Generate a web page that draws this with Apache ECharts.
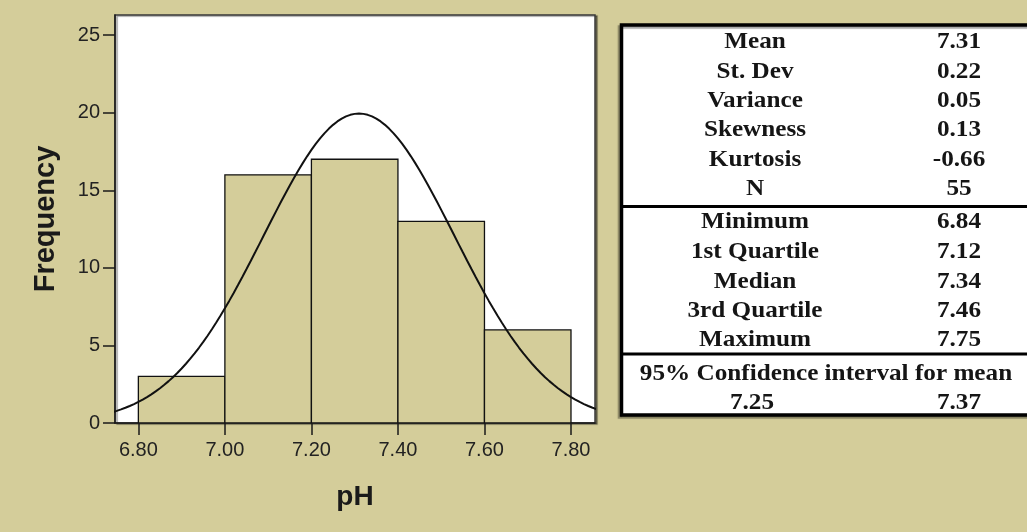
<!DOCTYPE html>
<html>
<head>
<meta charset="utf-8">
<script src="https://cdn.jsdelivr.net/npm/echarts@6/dist/echarts.min.js"></script>
<style>
  html, body { margin: 0; padding: 0; background: #D4CD9A; }
  #chart { width: 1027px; height: 532px; }
</style>
</head>
<body>
<div id="chart"></div>
<script>
// pH histogram: bin edges and counts
const binStarts = [6.80, 7.00, 7.20, 7.40, 7.60];
const binEnds   = [7.00, 7.20, 7.40, 7.60, 7.80];
const counts    = [3, 16, 17, 13, 6];

// Axis tick positions
const xTicks = [6.80, 7.00, 7.20, 7.40, 7.60, 7.80];
const yTicks = [0, 5, 10, 15, 20, 25];

// Summary statistics table
const statLabels1 = ['Mean', 'St. Dev', 'Variance', 'Skewness', 'Kurtosis', 'N'];
const statValues1 = ['7.31', '0.22', '0.05', '0.13', '-0.66', '55'];
const statLabels2 = ['Minimum', '1st Quartile', 'Median', '3rd Quartile', 'Maximum'];
const statValues2 = ['6.84', '7.12', '7.34', '7.46', '7.75'];
const ciTitle = '95% Confidence interval for mean';
const ciValues = ['7.25', '7.37'];

const BG = '#D4CD9A';

// Fitted normal curve scaled to counts (mean and sd from the table)
const mean = parseFloat(statValues1[0]);
const sd = parseFloat(statValues1[1]);
const total = counts.reduce((a, b) => a + b, 0);
const binWidth = binEnds[0] - binStarts[0];
const curve = [];
for (let i = 0; i <= 140; i++) {
  const x = 6.70 + i * 0.01;
  const z = (x - mean) / sd;
  curve.push([x, total * binWidth / (sd * Math.sqrt(2 * Math.PI)) * Math.exp(-0.5 * z * z)]);
}

const chart = echarts.init(document.getElementById('chart'), null, { renderer: 'canvas' });

// Table text helpers
const serif = 'bold 24px "Liberation Serif", serif';
function cell(text, cx, cy) {
  return {
    type: 'text', x: cx, y: cy, scaleX: 1.05, z: 10,
    style: { text: text, font: serif, fill: '#151515', align: 'center', verticalAlign: 'middle',
             textAlign: 'center', textVerticalAlign: 'middle' }
  };
}
const labelX = 755, valueX = 959;
const rows1Y = [42, 72, 101, 130, 160, 189];
const rows2Y = [222, 252, 282, 311, 340];
const tableEls = [
  { type: 'rect', z: 5, shape: { x: 621.5, y: 25, width: 420, height: 390 },
    style: { fill: '#fff', stroke: '#000', lineWidth: 3.5,
             shadowColor: 'rgba(0,0,0,0.35)', shadowOffsetX: -2, shadowOffsetY: 2, shadowBlur: 1 } },
  { type: 'line', z: 6, shape: { x1: 621, y1: 206.5, x2: 1027, y2: 206.5 }, style: { stroke: '#000', lineWidth: 3 } },
  { type: 'line', z: 6, shape: { x1: 621, y1: 354, x2: 1027, y2: 354 }, style: { stroke: '#000', lineWidth: 3 } }
];
statLabels1.forEach((t, i) => { tableEls.push(cell(t, labelX, rows1Y[i])); tableEls.push(cell(statValues1[i], valueX, rows1Y[i])); });
statLabels2.forEach((t, i) => { tableEls.push(cell(t, labelX, rows2Y[i])); tableEls.push(cell(statValues2[i], valueX, rows2Y[i])); });
tableEls.push(cell(ciTitle, 826, 374));
tableEls.push(cell(ciValues[0], 752, 403));
tableEls.push(cell(ciValues[1], valueX, 403));

chart.setOption({
  backgroundColor: BG,
  animation: false,
  grid: {
    left: 115, top: 15, right: 432, bottom: 109,
    show: true, backgroundColor: '#fff', borderColor: '#3a3a3a', borderWidth: 1.5,
    shadowColor: 'rgba(0,0,0,0.4)', shadowOffsetX: 2, shadowOffsetY: 1, shadowBlur: 1
  },
  xAxis: {
    type: 'value', min: 6.746, max: 7.8555,
    name: 'pH', nameLocation: 'middle', nameGap: 60,
    nameTextStyle: { fontFamily: 'Liberation Sans', fontWeight: 'bold', fontSize: 28, color: '#1a1a1a' },
    axisLine: { show: true, onZero: false, lineStyle: { color: '#1a1a1a', width: 1.5 } },
    axisTick: { show: true, length: 12, customValues: xTicks, lineStyle: { color: '#1a1a1a', width: 1.5 } },
    axisLabel: { customValues: xTicks, margin: 17, fontFamily: 'Liberation Sans', fontSize: 20, color: '#222',
                 formatter: v => v.toFixed(2) },
    splitLine: { show: false }
  },
  yAxis: {
    type: 'value', min: 0, max: 26.3,
    name: 'Frequency', nameLocation: 'middle', nameGap: 55, nameRotate: 90,
    nameTextStyle: { fontFamily: 'Liberation Sans', fontWeight: 'bold', fontSize: 29, color: '#1a1a1a' },
    axisLine: { show: true, lineStyle: { color: '#1a1a1a', width: 1.5 } },
    axisTick: { show: true, length: 12, customValues: yTicks, lineStyle: { color: '#1a1a1a', width: 1.5 } },
    axisLabel: { customValues: yTicks, margin: 15, fontFamily: 'Liberation Sans', fontSize: 20, color: '#222' },
    splitLine: { show: false }
  },
  series: [
    {
      type: 'custom',
      clip: true,
      data: binStarts.map((s, i) => [s, binEnds[i], counts[i]]),
      encode: { x: [0, 1], y: 2 },
      renderItem: function (params, api) {
        const p0 = api.coord([api.value(0), 0]);
        const p1 = api.coord([api.value(1), api.value(2)]);
        return {
          type: 'rect',
          shape: { x: p0[0], y: p1[1], width: p1[0] - p0[0], height: p0[1] - p1[1] },
          style: { fill: BG, stroke: '#111', lineWidth: 1.3 }
        };
      }
    },
    {
      type: 'line',
      data: curve,
      showSymbol: false,
      smooth: false,
      clip: true,
      z: 5,
      lineStyle: { color: '#111', width: 2 }
    }
  ],
  graphic: tableEls
});
</script>
</body>
</html>
